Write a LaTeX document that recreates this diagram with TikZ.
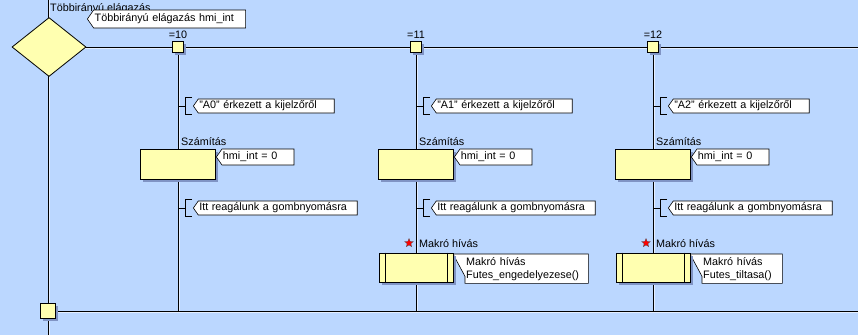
\documentclass[tikz,border=0pt]{standalone}
\usepackage{fontspec}
\setmainfont{Liberation Sans}
\usetikzlibrary{shapes.geometric, shapes.symbols, positioning, backgrounds, shadows}
\definecolor{canvasblue}{RGB}{187,215,255}
\definecolor{blockyellow}{RGB}{255,255,176}
\definecolor{shadowblue}{RGB}{128,148,196}
\definecolor{edgelight}{RGB}{228,238,255}

\begin{document}
\begin{tikzpicture}[
        x=1pt, y=-1pt,
        font=\fontsize{10.8}{13}\selectfont,
        flow/.style={draw=black, line width=0.9pt},
        hilite/.style={draw=edgelight, line width=0.8pt},
        block/.style={draw, fill=blockyellow, line width=0.8pt, minimum width=75pt, minimum height=30pt, inner sep=0pt,
            drop shadow={shadow xshift=2.5pt, shadow yshift=-2.5pt, fill=shadowblue, opacity=1}},
        joint/.style={draw, fill=blockyellow, line width=0.8pt, minimum size=11pt, inner sep=0pt,
            drop shadow={shadow xshift=2pt, shadow yshift=-2pt, fill=shadowblue, opacity=1}},
        scrollcap/.style={append after command={[draw, fill=white, line width=0.6pt, rounded corners=2pt]
            ([xshift=-1pt, yshift=3pt]\tikzlastnode.north east) rectangle ([xshift=4pt, yshift=-3pt]\tikzlastnode.south east)}},
        note/.style={signal, signal to=west, signal pointer angle=110, draw, fill=white, line width=0.6pt,
            minimum height=14pt, inner sep=1pt, text width=#1, align=left, anchor=west, scrollcap},
        macronote/.style={rectangle, minimum height=29pt, inner sep=1pt, text width=#1, align=left, anchor=north west, scrollcap},
        tag/.style={inner sep=0pt, anchor=west},
        redstar/.style={star, star points=5, star point ratio=2.3, fill=red, draw=black!70, line width=0.3pt, minimum size=9pt, inner sep=0pt},
    ]

    % Canvas
    \begin{scope}[on background layer]
        \fill[canvasblue] (0,0) rectangle (858,335);
    \end{scope}
    \useasboundingbox (0,0) rectangle (858,335);

    % Main lines
    \coordinate (top) at (48,0);
    \coordinate (bottom) at (48,335);
    \coordinate (rightend) at (858,47);
    \coordinate (mergeend) at (858,311);
    \draw[hilite] ([xshift=1.3pt]top) -- ([xshift=1.3pt]bottom);
    \draw[hilite] ([yshift=-1.3pt]48,47) -- ([yshift=-1.3pt]rightend);
    \draw[hilite] ([yshift=-1.3pt]48,311) -- ([yshift=-1.3pt]mergeend);
    \foreach \c in {178,416,653}
        \draw[hilite] ([xshift=1.3pt]\c,47) -- ([xshift=1.3pt]\c,311);
    \draw[flow] (top) -- (bottom);
    \draw[flow] (48,47) -- (rightend);
    \draw[flow] (48,311) -- (mergeend);
    \foreach \c in {178,416,653}
        \draw[flow] (\c,47) -- (\c,311);

    % Switch
    \node[tag] (switchlabel) at (50,9) {Többirányú elágazás};
    \node[diamond, draw, fill=blockyellow, line width=0.8pt, minimum width=74pt, minimum height=59pt, inner sep=0pt] (switch) at (49,47) {};
    \node[note=150pt, minimum height=18pt] (switchnote) at (87,19) {Többirányú elágazás hmi\_int};

    \node[joint] (case10) at (178,47) {};
    \node[joint] (case11) at (416,47) {};
    \node[joint] (case12) at (653,47) {};
    \node[inner sep=0pt, above=2pt of case10] (lab10) {=10};
    \node[inner sep=0pt, above=2pt of case11] (lab11) {=11};
    \node[inner sep=0pt, above=2pt of case12] (lab12) {=12};

    \node[joint, minimum size=15pt] (merge) at (48,311) {};

    % Branch =10
    \node[note=134pt] (note10a) at (193,106) {"A0" érkezett a kijelzőről};
    \node[tag] (calc10lab) at (181,142) {Számítás};
    \node[block] (calc10) at (177.5,164) {};
    \node[note=70pt, minimum height=16pt] (hmi10) at (216,157) {hmi\_int = 0};
    \node[note=157pt] (note10b) at (193,208) {Itt reagálunk a gombnyomásra};

    % Branch =11
    \node[note=134pt] (note11a) at (431,106) {"A1" érkezett a kijelzőről};
    \node[tag] (calc11lab) at (419,142) {Számítás};
    \node[block] (calc11) at (415.5,164) {};
    \node[note=70pt, minimum height=16pt] (hmi11) at (454,157) {hmi\_int = 0};
    \node[note=157pt] (note11b) at (431,208) {Itt reagálunk a gombnyomásra};
    \node[redstar] (star11) at (409,243) {};
    \node[tag] (macro11lab) at (419,244) {Makró hívás};
    \node[block, minimum width=74pt, minimum height=29pt] (macro11) at (416,267.5) {};
    \node[macronote=121pt] (call11) at (465,254) {Makró hívás\\Futes\_engedelyezese()};

    % Branch =12
    \node[note=134pt] (note12a) at (668,106) {"A2" érkezett a kijelzőről};
    \node[tag] (calc12lab) at (656,142) {Számítás};
    \node[block] (calc12) at (652.5,164) {};
    \node[note=70pt, minimum height=16pt] (hmi12) at (691,157) {hmi\_int = 0};
    \node[note=157pt] (note12b) at (668,208) {Itt reagálunk a gombnyomásra};
    \node[redstar] (star12) at (646,243) {};
    \node[tag] (macro12lab) at (656,244) {Makró hívás};
    \node[block, minimum width=74pt, minimum height=29pt] (macro12) at (653,267.5) {};
    \node[macronote=78pt] (call12) at (702,254) {Makró hívás\\Futes\_tiltasa()};

    % Macro box inner bars
    \foreach \m in {macro11, macro12} {
        \draw[line width=0.8pt] ([xshift=7pt]\m.north west) -- ([xshift=7pt]\m.south west);
        \draw[line width=0.8pt] ([xshift=-6pt]\m.north east) -- ([xshift=-6pt]\m.south east);
    }

    % Macro call outlines
    \begin{scope}[on background layer]
        \foreach \m in {call11, call12}
            \filldraw[fill=white, line width=0.6pt] ([xshift=-12pt]\m.north west) -- (\m.north east) -- (\m.south east)
                -- (\m.south west) -- ([yshift=7pt]\m.south west) -- cycle;
    \end{scope}

    % Comment brackets
    \foreach \n/\c in {note10a/case10, note10b/case10, note11a/case11, note11b/case11, note12a/case12, note12b/case12}
        \draw[line width=0.8pt] (\c |- \n.west) -- ++(7,0) ++(7,-9) -- ++(-7,0) -- ++(0,17) -- ++(7,0);

\end{tikzpicture}
\end{document}
